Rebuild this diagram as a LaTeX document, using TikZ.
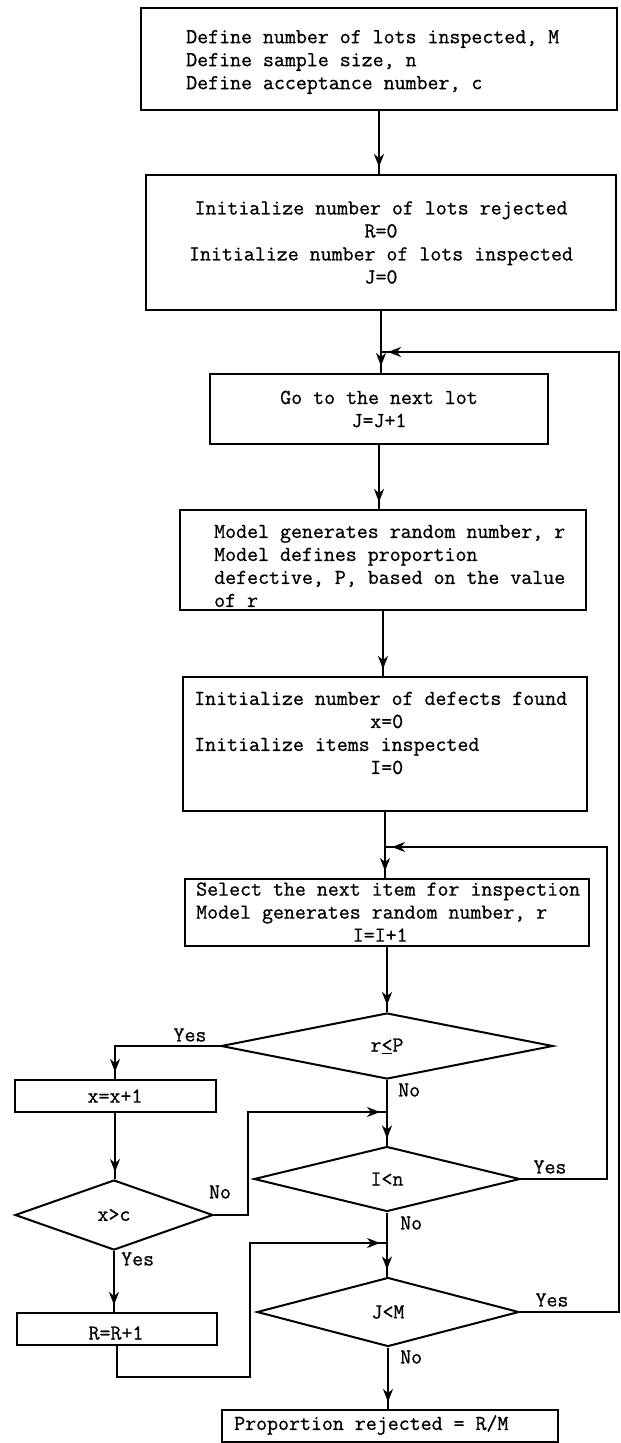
\documentclass[tikz,border=0pt]{standalone}
\usepackage{fontspec}
\setmonofont{Latin Modern Mono}[FakeBold=0.8]
\usetikzlibrary{shapes.geometric,arrows.meta,decorations.markings}
\newcommand\tyf{\ttfamily\fontsize{21.3}{23}\selectfont}
\begin{document}
\begin{tikzpicture}[x=1pt,y=-1pt,
  every node/.style={font=\tyf},
  box/.style={draw, line width=2pt, rectangle, inner sep=0pt},
  dia/.style={draw, line width=2pt, diamond, inner sep=0pt},
  lbl/.style={inner sep=0pt},
  arr/.style={line width=2pt, postaction={decorate},
    decoration={markings, mark=at position -7pt with {\arrow{Stealth[length=13pt,width=10pt,inset=4pt]}}}}
]
\useasboundingbox (0,0) rectangle (621,1443);

% boxes
\node[box, minimum width=476, minimum height=102] (b1) at (379,59) {};
\node[lbl, anchor=west, align=left] (t1) at (186,62) {Define number of lots inspected, M\\Define sample size, n\\Define acceptance number, c};

\node[box, minimum width=470, minimum height=135, align=center] (b2) at (381,242.5) {Initialize number of lots rejected\\R=0\\Initialize number of lots inspected\\J=0};

\node[box, minimum width=338, minimum height=70, align=center] (b3) at (379,409) {Go to the next lot\\J=J+1};

\node[box, minimum width=406, minimum height=100] (b4) at (383,560) {};
\node[lbl, anchor=west, align=left] (t4) at (214,566) {Model generates random number, r\\Model defines proportion\\defective, P, based on the value\\of r};

\node[box, minimum width=404, minimum height=134] (b5) at (385,744) {};
\node[lbl, anchor=west, align=left] (t5) at (194,733) {Initialize number of defects found\\\makebox[385pt]{x=0}\\Initialize items inspected\\\makebox[385pt]{I=0}};

\node[box, minimum width=404, minimum height=67] (b6) at (387,912.5) {};
\node[lbl, anchor=west, align=left] (t6) at (196,912) {Select the next item for inspection\\Model generates random number, r\\\makebox[368pt]{I=I+1}};

\node[box, minimum width=201, minimum height=32] (b7) at (115,1096) {x=x+1};
\node[box, minimum width=200, minimum height=32] (b8) at (117,1329) {};
\node[lbl] (t8) at (116,1333) {R=R+1};
\node[box, minimum width=336, minimum height=32] (b9) at (390,1426) {};
\node[lbl, anchor=west] (t9) at (234,1425) {Proportion rejected = R/M};

% decisions
\node[dia, minimum width=332, minimum height=66] (d1) at (387,1046) {r\underline{<}P};
\node[dia, minimum width=266, minimum height=65] (d2) at (387,1179) {I<n};
\node[dia, minimum width=198, minimum height=70] (d3) at (114,1215) {x>c};
\node[dia, minimum width=262, minimum height=69] (d4) at (388,1312) {J<M};

% helper coordinates
\coordinate (j1) at (b2.south |- 0,352);
\coordinate (j2) at (b5.south |- 0,847);
\coordinate (j3) at (d1.south |- 0,1112);
\coordinate (j4) at (d2.south |- 0,1243);
\coordinate (o1) at (619,352);
\coordinate (o2) at (607,847);
\coordinate (c1) at (248,1112);
\coordinate (c2) at (250,1377);

% connectors
\draw[arr] (b1.south) -- (b1.south |- b2.north);
\draw[arr] (b2.south) -- (b2.south |- b3.north);
\draw[arr] (b3.south) -- (b3.south |- b4.north);
\draw[arr] (b4.south) -- (b4.south |- b5.north);
\draw[arr] (b5.south) -- (b5.south |- b6.north);
\draw[arr] (b6.south) -- (b6.south |- d1.north);
\draw[arr] (d1.south) -- (d1.south |- d2.north);
\draw[arr] (d2.south) -- (d2.south |- d4.north);
\draw[arr] (d4.south) -- (d4.south |- b9.north);
\draw[arr] (d1.west) -| (b7.north);
\draw[arr] (b7.south) -- (b7.south |- d3.north);
\draw[arr] (d3.south) -- (d3.south |- b8.north);
\draw[arr] (d3.east) -| (c1) -- (j3);
\draw[arr] (b8.south) |- (c2) |- (j4);
\draw[arr] (d2.east) -| (o2) -- (j2);
\draw[arr] (d4.east) -| (o1) -- (j1);

% labels
\node[lbl] (y1) at (190,1035) {Yes};
\node[lbl, anchor=west] (n1) at (398,1090) {No};
\node[lbl] (n3) at (220,1192) {No};
\node[lbl] (y2) at (550,1167) {Yes};
\node[lbl, anchor=west] (n2) at (400,1223) {No};
\node[lbl, anchor=west] (y3) at (121,1259) {Yes};
\node[lbl] (y4) at (552,1300) {Yes};
\node[lbl, anchor=west] (n4) at (400,1357) {No};
\end{tikzpicture}
\end{document}
